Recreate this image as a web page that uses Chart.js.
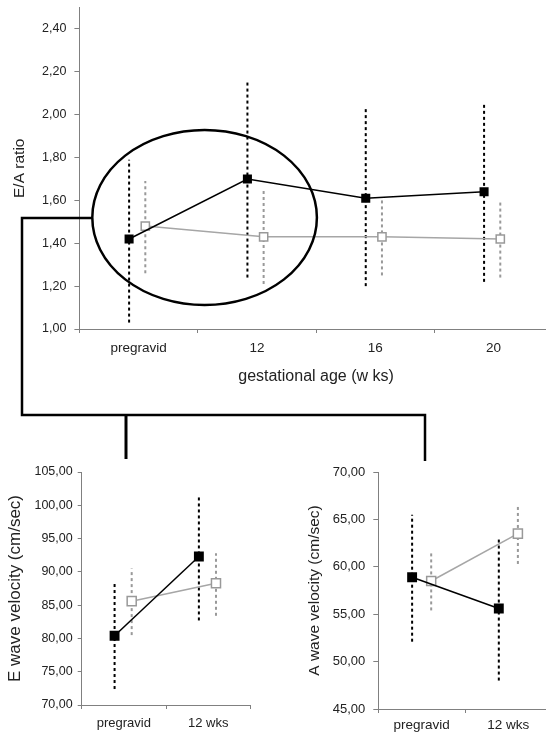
<!DOCTYPE html>
<html>
<head>
<meta charset="utf-8">
<script src="https://cdn.jsdelivr.net/npm/chart.js@4.4.0/dist/chart.umd.min.js"></script>
<style>
    html, body { margin: 0; padding: 0; background: #fff; overflow: hidden; width: 546px; height: 737px; position: relative; }
    canvas { position: absolute; }
</style>
</head>
<body>
<canvas id="eaChart" width="560" height="390" style="left:0;top:0"></canvas>
<canvas id="eWaveChart" width="270" height="277" style="left:0;top:460px"></canvas>
<canvas id="aWaveChart" width="260" height="277" style="left:300px;top:460px"></canvas>
<canvas id="overlay" width="546" height="737" style="left:0;top:0;pointer-events:none"></canvas>
<script>
// E/A ratio by gestational age
const eaLabels = ['pregravid', '12', '16', '20'];
const eaTicks = [1.0, 1.2, 1.4, 1.6, 1.8, 2.0, 2.2, 2.4];
const eaBlack = [1.42, 1.70, 1.61, 1.64];
const eaBlackLow = [1.03, 1.24, 1.20, 1.22];
const eaBlackHigh = [1.79, 2.16, 2.03, 2.06];
const eaGrey = [1.48, 1.43, 1.43, 1.42];
const eaGreyLow = [1.26, 1.21, 1.25, 1.24];
const eaGreyHigh = [1.69, 1.65, 1.60, 1.59];

// E wave velocity
const eLabels = ['pregravid', '12 wks'];
const eTicks = [70, 75, 80, 85, 90, 95, 100, 105];
const eBlack = [80.4, 92.3];
const eBlackLow = [72.4, 82.7];
const eBlackHigh = [88.3, 101.5];
const eGrey = [85.6, 88.3];
const eGreyLow = [80.5, 83.4];
const eGreyHigh = [90.5, 92.8];

// A wave velocity
const aLabels = ['pregravid', '12 wks'];
const aTicks = [45, 50, 55, 60, 65, 70];
const aBlack = [58.9, 55.6];
const aBlackLow = [52.1, 48.0];
const aBlackHigh = [65.5, 63.2];
const aGrey = [58.5, 63.5];
const aGreyLow = [55.4, 60.3];
const aGreyHigh = [61.5, 66.4];

const FONT = "'Liberation Sans', Arial, sans-serif";
const AXIS = '#808080';
const comma = v => v.toFixed(2).replace('.', ',');

function seriesPoints(values, shift) {
    return values.map((v, i) => ({ x: i + shift, y: v }));
}

function errorBars(low, high, shift, color, width) {
    return low.map((lo, i) => ({
        data: [{ x: i + shift, y: lo }, { x: i + shift, y: high[i] }],
        borderColor: color,
        borderWidth: width,
        borderDash: [3, 3],
        pointRadius: 0,
        order: 2
    }));
}

function drawPanel(id, p) {
    const n = p.labels.length;
    const bounds = [];
    for (let v = -0.5; v <= n - 0.5; v += 0.5) bounds.push(v);
    return new Chart(document.getElementById(id), {
        type: 'line',
        data: {
            datasets: [
                {
                    data: seriesPoints(p.black, p.blackShift),
                    borderColor: '#000', borderWidth: 1.5,
                    pointStyle: 'rect', pointRadius: p.marker,
                    pointBackgroundColor: '#000', pointBorderColor: '#000', pointBorderWidth: 0,
                    order: 0
                },
                {
                    data: seriesPoints(p.grey, p.greyShift),
                    borderColor: '#a6a6a6', borderWidth: 1.5,
                    pointStyle: 'rect', pointRadius: p.marker - 0.6,
                    pointBackgroundColor: '#fff', pointBorderColor: '#999', pointBorderWidth: 1.5,
                    order: 1
                },
                ...errorBars(p.blackLow, p.blackHigh, p.blackShift, '#000', 2),
                ...errorBars(p.greyLow, p.greyHigh, p.greyShift, '#999', 2)
            ]
        },
        options: {
            responsive: false,
            animation: false,
            events: [],
            layout: { padding: p.padding },
            plugins: { legend: { display: false }, tooltip: { enabled: false } },
            scales: {
                x: {
                    type: 'linear', min: -0.5, max: n - 0.5,
                    afterBuildTicks: s => { s.ticks = bounds.map(v => ({ value: v })); },
                    afterFit: s => { s.height = p.xHeight; s.paddingLeft = 0; s.paddingRight = 0; },
                    grid: {
                        drawOnChartArea: false, tickLength: 4,
                        tickColor: ctx => Number.isInteger(ctx.tick.value) ? 'rgba(0,0,0,0)' : AXIS
                    },
                    border: { color: AXIS, width: 1 },
                    ticks: {
                        autoSkip: false, maxRotation: 0, padding: p.xPad, color: '#222',
                        font: { family: FONT, size: p.xFont },
                        callback: v => Number.isInteger(v) ? p.labels[v] : ''
                    },
                    title: {
                        display: !!p.xTitle, text: p.xTitle || '', color: '#222',
                        font: { family: FONT, size: 16 }, padding: { top: 0, bottom: 4 }
                    }
                },
                y: {
                    min: p.min, max: p.max,
                    afterBuildTicks: s => { s.ticks = p.ticks.map(v => ({ value: v })); },
                    afterFit: s => { s.width = p.yWidth; s.paddingTop = 0; s.paddingBottom = 0; },
                    grid: { drawOnChartArea: false, tickLength: p.yTick, tickColor: AXIS },
                    border: { color: AXIS, width: 1 },
                    ticks: {
                        padding: p.yPad, color: '#222',
                        font: { family: FONT, size: p.yFont },
                        callback: v => comma(v)
                    },
                    title: {
                        display: true, text: p.yTitle, color: '#222',
                        font: { family: FONT, size: p.yTitleSize }, padding: { top: p.yTitlePad, bottom: 0 }
                    }
                }
            }
        }
    });
}

drawPanel('eaChart', {
    labels: eaLabels, ticks: eaTicks, min: 1, max: 2.5,
    black: eaBlack, blackLow: eaBlackLow, blackHigh: eaBlackHigh, blackShift: -0.08,
    grey: eaGrey, greyLow: eaGreyLow, greyHigh: eaGreyHigh, greyShift: 0.057,
    marker: 6.4,
    padding: { top: 7.5, right: 7, bottom: 0, left: 0 },
    yWidth: 79.4, xHeight: 61,
    xFont: 13.5, xPad: 7, yFont: 12.5, yPad: 8, yTick: 5,
    xTitle: 'gestational age (w ks)',
    yTitle: 'E/A ratio', yTitleSize: 15.5, yTitlePad: 10
});

drawPanel('eWaveChart', {
    labels: eLabels, ticks: eTicks, min: 70, max: 105,
    black: eBlack, blackLow: eBlackLow, blackHigh: eBlackHigh, blackShift: -0.11,
    grey: eGrey, greyLow: eGreyLow, greyHigh: eGreyHigh, greyShift: 0.093,
    marker: 7,
    padding: { top: 12, right: 19.7, bottom: 0, left: 0 },
    yWidth: 81.7, xHeight: 32,
    xFont: 13, xPad: 6.5, yFont: 12.5, yPad: 5, yTick: 4,
    yTitle: 'E wave velocity (cm/sec)', yTitleSize: 17, yTitlePad: 4.8
});

drawPanel('aWaveChart', {
    labels: aLabels, ticks: aTicks, min: 45, max: 70,
    black: aBlack, blackLow: aBlackLow, blackHigh: aBlackHigh, blackShift: -0.11,
    grey: aGrey, greyLow: aGreyLow, greyHigh: aGreyHigh, greyShift: 0.11,
    marker: 7,
    padding: { top: 12, right: 8.3, bottom: 0, left: 0 },
    yWidth: 78.3, xHeight: 28,
    xFont: 13.5, xPad: 4, yFont: 13, yPad: 8, yTick: 5,
    yTitle: 'A wave velocity (cm/sec)', yTitleSize: 15.5, yTitlePad: 5.7
});

// ellipse around the first two time points and the connector to the detail panels
const ctx = document.getElementById('overlay').getContext('2d');
ctx.strokeStyle = '#000';
ctx.lineWidth = 2.5;
ctx.beginPath();
ctx.ellipse(204.6, 217.5, 112.3, 87.5, 0, 0, Math.PI * 2);
ctx.stroke();
ctx.beginPath();
ctx.moveTo(92.3, 218);
ctx.lineTo(22, 218);
ctx.lineTo(22, 415);
ctx.lineTo(425, 415);
ctx.lineTo(425, 461);
ctx.stroke();
ctx.lineWidth = 3;
ctx.beginPath();
ctx.moveTo(126, 415);
ctx.lineTo(126, 459);
ctx.stroke();
</script>
</body>
</html>
